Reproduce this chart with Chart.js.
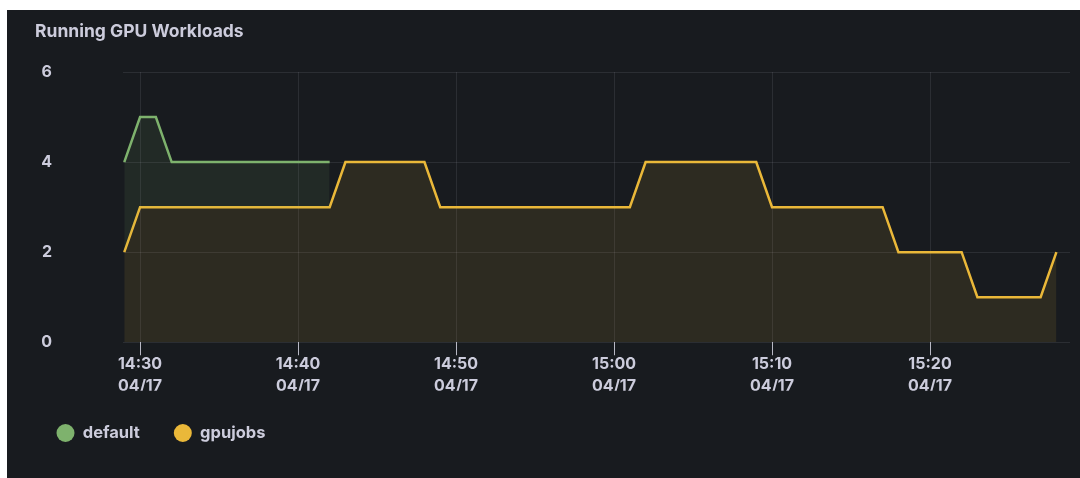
<!DOCTYPE html>
<html>
<head>
<meta charset="utf-8">
<title>Running GPU Workloads</title>
<script src="https://cdn.jsdelivr.net/npm/chart.js@4.4.1/dist/chart.umd.min.js"></script>
<style>
    html, body { margin: 0; padding: 0; background: #ffffff; }
    #panel { position: absolute; left: 7px; top: 10px; width: 1073px; height: 468px; background: #181b1f; }
</style>
</head>
<body>
<div id="panel"><canvas id="gpuChart"></canvas></div>
<script>
// Sample times (one per minute)
const times = [
    '14:29', '14:30', '14:31', '14:32', '14:33', '14:34', '14:35', '14:36', '14:37', '14:38',
    '14:39', '14:40', '14:41', '14:42', '14:43', '14:44', '14:45', '14:46', '14:47', '14:48',
    '14:49', '14:50', '14:51', '14:52', '14:53', '14:54', '14:55', '14:56', '14:57', '14:58',
    '14:59', '15:00', '15:01', '15:02', '15:03', '15:04', '15:05', '15:06', '15:07', '15:08',
    '15:09', '15:10', '15:11', '15:12', '15:13', '15:14', '15:15', '15:16', '15:17', '15:18',
    '15:19', '15:20', '15:21', '15:22', '15:23', '15:24', '15:25', '15:26', '15:27', '15:28'
];

const defaultValues = [
    4, 5, 5, 4, 4, 4, 4, 4, 4, 4,
    4, 4, 4, 4, null, null, null, null, null, null,
    null, null, null, null, null, null, null, null, null, null,
    null, null, null, null, null, null, null, null, null, null,
    null, null, null, null, null, null, null, null, null, null,
    null, null, null, null, null, null, null, null, null, null
];

const gpujobsValues = [
    2, 3, 3, 3, 3, 3, 3, 3, 3, 3,
    3, 3, 3, 3, 4, 4, 4, 4, 4, 4,
    3, 3, 3, 3, 3, 3, 3, 3, 3, 3,
    3, 3, 3, 4, 4, 4, 4, 4, 4, 4,
    4, 3, 3, 3, 3, 3, 3, 3, 3, 2,
    2, 2, 2, 2, 1, 1, 1, 1, 1, 2
];

const tickTimes = ['14:30', '14:40', '14:50', '15:00', '15:10', '15:20'];
const tickDate = '04/17';
const yTicks = [0, 2, 4, 6];

const textColor = '#ccccdc';
const gridColor = 'rgba(204, 204, 220, 0.11)';

function toMinutes(t) {
    const [h, m] = t.split(':').map(Number);
    return h * 60 + m;
}

function toPoints(values) {
    return times.map((t, i) => ({ x: toMinutes(t), y: values[i] }));
}

// Grafana puts the legend a little further left than the chart's padding
const legendShift = {
    id: 'legendShift',
    afterLayout(chart) {
        chart.legend.left -= 12.5;
    }
};

const ctx = document.getElementById('gpuChart').getContext('2d');
const gpuChart = new Chart(ctx, {
    type: 'line',
    data: {
        datasets: [{
            label: 'default',
            data: toPoints(defaultValues),
            borderColor: '#7eb26d',
            backgroundColor: 'rgba(126, 178, 109, 0.1)',
            pointBackgroundColor: '#7eb26d',
            pointBorderWidth: 0,
            fill: '+1'
        }, {
            label: 'gpujobs',
            data: toPoints(gpujobsValues),
            borderColor: '#eab839',
            backgroundColor: 'rgba(234, 184, 57, 0.1)',
            pointBackgroundColor: '#eab839',
            pointBorderWidth: 0,
            fill: 'origin'
        }]
    },
    options: {
        responsive: true,
        maintainAspectRatio: false,
        animation: false,
        layout: {
            padding: { top: 0, left: 28, right: 10, bottom: 26.75 }
        },
        elements: {
            point: { radius: 0, hoverRadius: 0 },
            line: { tension: 0, borderWidth: 2.5 }
        },
        plugins: {
            title: {
                display: true,
                text: 'Running GPU Workloads',
                align: 'start',
                color: textColor,
                font: { family: 'Inter', size: 17.5, weight: '700', lineHeight: 1.2 },
                padding: { top: 11.5, bottom: 29.5 }
            },
            legend: {
                position: 'bottom',
                align: 'start',
                labels: {
                    color: textColor,
                    font: { family: 'Inter', size: 16.5, weight: '700' },
                    usePointStyle: true,
                    pointStyle: 'circle',
                    pointStyleWidth: 18,
                    boxHeight: 12.7,
                    padding: 34
                }
            },
            tooltip: { enabled: false }
        },
        scales: {
            x: {
                type: 'linear',
                min: 868.92,
                max: 928.86,
                border: { display: false },
                grid: {
                    color: gridColor,
                    tickColor: '#b8b8c4',
                    tickLength: 13,
                    tickWidth: 1
                },
                ticks: {
                    color: textColor,
                    font: { family: 'Inter', size: 16, weight: '700', lineHeight: 1.37 },
                    padding: -2,
                    maxRotation: 0,
                    autoSkip: false,
                    callback: (value, index) => [tickTimes[index], tickDate]
                },
                afterBuildTicks: scale => {
                    scale.ticks = tickTimes.map(t => ({ value: toMinutes(t) }));
                },
                afterFit: scale => {
                    scale.height = 48.5;
                }
            },
            y: {
                min: 0,
                max: 6,
                border: { display: false },
                // long invisible ticks push the labels out to the panel edge
                grid: { color: gridColor, drawTicks: true, tickLength: 71, tickColor: 'transparent' },
                ticks: {
                    color: textColor,
                    font: { family: 'Inter', size: 16, weight: '700' },
                    padding: 0
                },
                afterBuildTicks: scale => {
                    scale.ticks = yTicks.map(v => ({ value: v }));
                },
                afterFit: scale => {
                    scale.width = 88;
                }
            }
        }
    },
    plugins: [legendShift]
});
</script>
</body>
</html>
